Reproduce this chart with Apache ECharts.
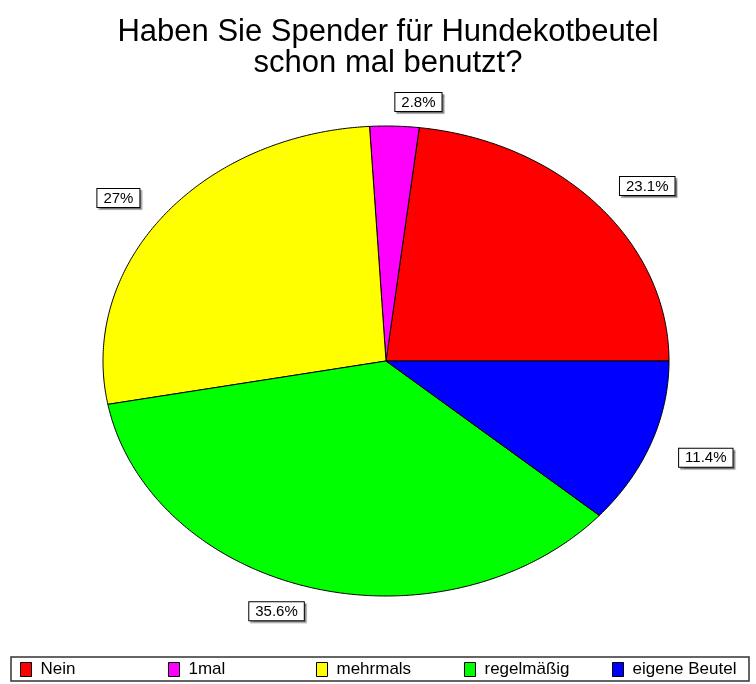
<!DOCTYPE html>
<html>
<head>
<meta charset="utf-8">
<script src="https://cdn.jsdelivr.net/npm/echarts@6/dist/echarts.min.js"></script>
<style>html,body{margin:0;padding:0;background:#fff}#c{width:756px;height:684px}</style>
</head>
<body>
<div id="c"></div>
<script>
const categories = ['Nein', '1mal', 'mehrmals', 'regelmäßig', 'eigene Beutel'];
const values = [23.1, 2.8, 27, 35.6, 11.4];
const colors = ['#ff0000', '#ff00ff', '#ffff00', '#00ff00', '#0000ff'];
const titleText = 'Haben Sie Spender für Hundekotbeutel\nschon mal benutzt?';

const FONT = '"Liberation Sans", Arial, sans-serif';
const CX = 386, CY = 361, RX = 283, RY = 235;
const total = values.reduce((a, b) => a + b, 0);

function makeRender(idx) {
  return function (params, api) {
    const v = api.value(0);
    let before = 0;
    for (let k = 0; k < idx; k++) before += values[k];
    const a0 = before / total * Math.PI * 2;
    const a1 = (before + v) / total * Math.PI * 2;
    const pts = [[CX, CY]];
    const steps = Math.max(4, Math.ceil((a1 - a0) / (Math.PI / 360)));
    for (let s = 0; s <= steps; s++) {
      const t = a0 + (a1 - a0) * s / steps;
      pts.push([CX + RX * Math.cos(t), CY - RY * Math.sin(t)]);
    }
    const m = (a0 + a1) / 2;
    const c = Math.cos(m), sn = Math.sin(m);
    const lx = CX + (RX + 30) * c;
    const ly = CY - (RY + 15) * sn;
    return {
      type: 'group',
      children: [
        {
          type: 'polygon',
          shape: { points: pts },
          style: { fill: colors[idx], stroke: '#000', lineWidth: 1 }
        },
        {
          type: 'text',
          x: lx, y: ly,
          style: {
            text: v + '%',
            font: '15px ' + FONT,
            fill: '#000',
            align: c >= 0 ? 'left' : 'right',
            verticalAlign: sn >= 0 ? 'bottom' : 'top',
            backgroundColor: '#fff',
            borderColor: '#000',
            borderWidth: 1,
            padding: [2, 6, 1, 6],
            shadowColor: 'rgba(0,0,0,0.35)',
            shadowOffsetX: 2,
            shadowOffsetY: 2,
            shadowBlur: 1
          }
        }
      ]
    };
  };
}

const series = categories.map((name, i) => ({
  type: 'custom',
  name: name,
  coordinateSystem: 'none',
  itemStyle: { color: colors[i] },
  data: [[values[i]]],
  renderItem: makeRender(i),
  animation: false
}));

const legends = categories.map((name, i) => ({
  data: [name],
  left: 20 + 148 * i,
  top: 661,
  padding: 0,
  itemWidth: 11,
  itemHeight: 14,
  icon: 'rect',
  selectedMode: false,
  itemStyle: { borderColor: '#000', borderWidth: 1 },
  textStyle: { fontFamily: FONT, fontSize: 17, color: '#000', padding: [0, 0, 0, 4] }
}));

const chart = echarts.init(document.getElementById('c'));
chart.setOption({
  backgroundColor: '#fff',
  animation: false,
  legend: legends,
  graphic: [{
    type: 'text',
    x: 388, y: 17,
    style: {
      text: titleText,
      font: '31px ' + FONT,
      fill: '#000',
      align: 'center',
      verticalAlign: 'top',
      lineHeight: 31
    }
  }, {
    type: 'rect',
    shape: { x: 11, y: 657, width: 738, height: 24 },
    style: { fill: 'none', stroke: '#333', lineWidth: 1.5 },
    z: 10
  }],
  series: series
});
</script>
</body>
</html>
